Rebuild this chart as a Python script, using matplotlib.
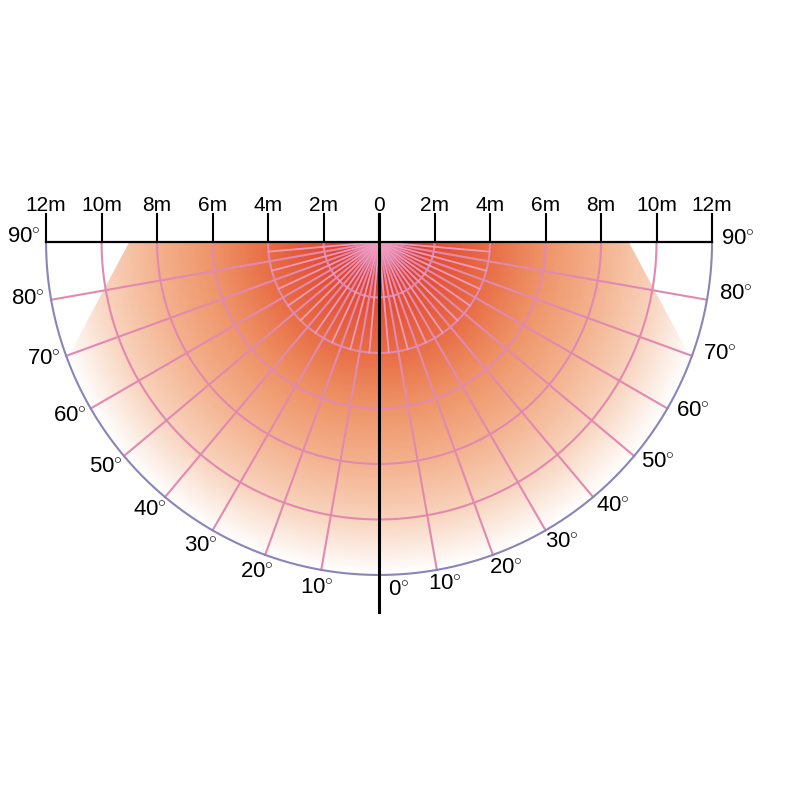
import numpy as np
import matplotlib
matplotlib.use("Agg")
import matplotlib.pyplot as plt
from matplotlib.colors import LinearSegmentedColormap
from matplotlib.path import Path
from matplotlib.patches import PathPatch

plt.rcParams['font.family'] = ['Liberation Sans', 'DejaVu Sans']
plt.rcParams['mathtext.fontset'] = 'custom'
plt.rcParams['mathtext.rm'] = 'Liberation Sans'

# distance scale (metres) and grid
dist_ticks = [-12, -10, -8, -6, -4, -2, 0, 2, 4, 6, 8, 10, 12]
dist_labels = ["12m", "10m", "8m", "6m", "4m", "2m", "0", "2m", "4m", "6m", "8m", "10m", "12m"]
ring_radii = [2, 4, 6, 8, 10]
outer_radius = 12
angle_labels = [0, 10, 20, 30, 40, 50, 60, 70, 80, 90]
major_angles = [10, 20, 30, 40, 50, 60, 70, 80]
minor_angles = [5, 15, 25, 35, 45, 55, 65, 75, 85]
minor_len = 4

# detection zone: half width at the top edge and the angle where the cut edge meets the rim
zone_top_half = 9.0
zone_rim_angle = 69.5

fig = plt.figure(figsize=(8, 8), dpi=100)
ax = fig.add_axes([0, 0, 1, 1])
ax.set_xlim(-13.66, 15.17)
ax.set_ylim(-20.11, 8.72)
ax.set_aspect('equal')
ax.axis('off')

# gradient fill clipped to the zone
cmap = LinearSegmentedColormap.from_list(
    "heat", [(0.0, "#d42a28"), (0.17, "#e24e33"), (0.33, "#e86c44"),
             (0.5, "#ef9468"), (0.67, "#f4b28e"), (0.83, "#f8d2bb"), (1.0, "#ffffff")])
xs = np.linspace(-12, 12, 600)
ys = np.linspace(-12, 0, 300)
X, Y = np.meshgrid(xs, ys)
R = np.hypot(X, Y) / outer_radius
im = ax.imshow(cmap(np.clip(R, 0, 1)), extent=[-12, 12, -12, 0], origin='lower',
               interpolation='bilinear', zorder=1)

ra = np.deg2rad(zone_rim_angle)
arc = np.deg2rad(np.linspace(zone_rim_angle, -zone_rim_angle, 200))
verts = [(-zone_top_half, 0), (zone_top_half, 0),
         (outer_radius * np.sin(ra), -outer_radius * np.cos(ra))]
verts += [(outer_radius * np.sin(a), -outer_radius * np.cos(a)) for a in arc]
verts += [(-zone_top_half, 0)]
clip = PathPatch(Path(verts), transform=ax.transData, facecolor='none', edgecolor='none')
ax.add_patch(clip)
im.set_clip_path(clip)

grid_col = "#e289b0"
t = np.deg2rad(np.linspace(-90, 90, 400))
for r in ring_radii:
    ax.plot(r * np.sin(t), -r * np.cos(t), color=grid_col, lw=1.5, zorder=2)
for a in major_angles:
    for s in (-1, 1):
        ar = np.deg2rad(a)
        ax.plot([0, s * outer_radius * np.sin(ar)], [0, -outer_radius * np.cos(ar)],
                color=grid_col, lw=1.5, zorder=2)
for a in minor_angles:
    for s in (-1, 1):
        ar = np.deg2rad(a)
        ax.plot([0, s * minor_len * np.sin(ar)], [0, -minor_len * np.cos(ar)],
                color="#f09ac0", lw=1.3, zorder=2)

# outer rim
ax.plot(outer_radius * np.sin(t), -outer_radius * np.cos(t), color="#8a84b8", lw=1.5, zorder=3)

# top scale
ax.plot([-12, 12], [0, 0], color='black', lw=1.6, zorder=4)
for x, lab in zip(dist_ticks, dist_labels):
    ax.plot([x, x], [0, 1.0], color='black', lw=1.5, zorder=4)
    ax.text(x, 1.33, lab, ha='center', va='center', fontsize=15, zorder=5)
ax.plot([0, 0], [1.0, -13.33], color='black', lw=2.2, zorder=4)

# angle labels
for a in angle_labels:
    ar = np.deg2rad(a)
    lab = f"{a}$^{{\\circ}}$"
    if a == 0:
        ax.text(0.7, -12.55, lab, ha='center', va='center', fontsize=16)
        continue
    rl = 12.8 if a == 90 else 12.85
    ax.text(-rl * np.sin(ar), -rl * np.cos(ar) + 0.15, lab, ha='center', va='center', fontsize=16)
    rr = 12.8 if a == 90 else 12.9
    dy = 0.1 if a == 90 else 0.35
    ax.text(rr * np.sin(ar) + 0.15, -rr * np.cos(ar) + dy, lab, ha='center', va='center', fontsize=16)

fig.savefig("out.png", dpi=100, facecolor='white')
